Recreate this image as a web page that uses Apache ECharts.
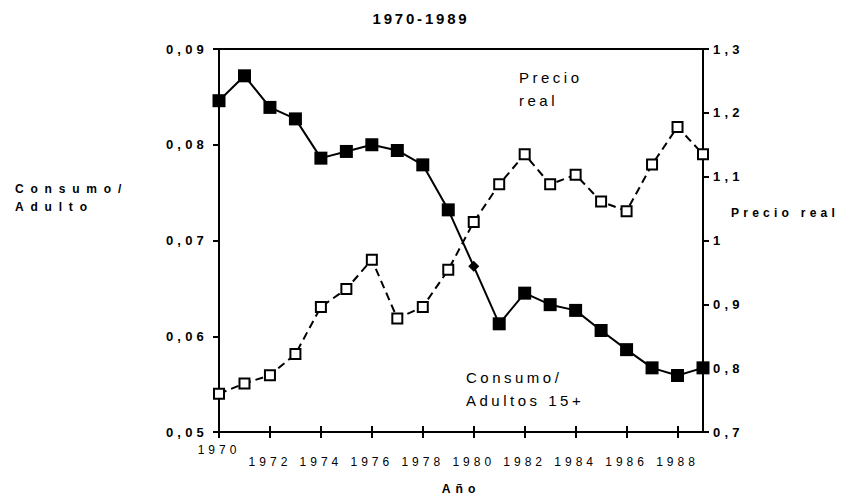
<!DOCTYPE html>
<html><head><meta charset="utf-8">
<script src="https://cdn.jsdelivr.net/npm/echarts@6/dist/echarts.min.js"></script>
<style>
html,body{margin:0;padding:0;background:#fff;}
#c{width:842px;height:500px;}
</style>
</head><body><div id="c"></div>
<script>
// ---- data ----
const years = ['1970','1971','1972','1973','1974','1975','1976','1977','1978','1979','1980','1981','1982','1983','1984','1985','1986','1987','1988','1989'];
const consumo = [0.0846,0.0872,0.0839,0.0827,0.0786,0.0793,0.0800,0.0794,0.0779,0.0732,0.0673,0.0613,0.0645,0.0633,0.0627,0.0606,0.0586,0.0567,0.0559,0.0567];
const precio = [0.760,0.776,0.789,0.822,0.896,0.924,0.970,0.878,0.896,0.954,1.029,1.088,1.135,1.088,1.103,1.061,1.046,1.119,1.178,1.135];
const leftTickLabels = ['0,05','0,06','0,07','0,08','0,09'];
const rightTickLabels = ['0,7','0,8','0,9','1','1,1','1,2','1,3'];
const diamondYear = '1980';
const titleText = '1970-1989';
const leftName = 'Consumo/\nAdulto';
const rightName = 'Precio real';
const xName = 'Año';
const noteRight = 'Precio\nreal';
const noteLeft = 'Consumo/\nAdultos 15+';

const FONT = '"Liberation Sans", Arial, Helvetica, sans-serif';
const chart = echarts.init(document.getElementById('c'), null, {renderer:'svg'});

const consumoData = consumo.map((v,i)=> years[i]===diamondYear ? {value:v, symbol:'diamond', symbolSize:11} : v);

chart.setOption({
  animation:false,
  backgroundColor:'#fff',
  title:{text:titleText,left:'center',top:6,textStyle:{fontFamily:FONT,fontSize:15,fontWeight:'bold',color:'#000'}},
  grid:{left:219,right:139,top:49,bottom:63,show:true,borderColor:'#000',borderWidth:2,backgroundColor:'transparent'},
  xAxis:[{
    type:'category',data:years,boundaryGap:false,
    name:xName,nameLocation:'middle',nameGap:51,
    nameTextStyle:{fontFamily:FONT,fontSize:12.2,fontWeight:'bold',color:'#000'},
    axisLine:{lineStyle:{color:'#000',width:2}},
    axisTick:{interval:1,length:6,lineStyle:{color:'#000',width:2}},
    axisLabel:{interval:1,margin:12,fontFamily:FONT,fontSize:12,color:'#000',
      formatter:(v,i)=> i===0 ? '{a|'+v+'}' : '{b|'+v+'}',
      rich:{a:{fontFamily:FONT,fontSize:12,color:'#000'},b:{fontFamily:FONT,fontSize:12,color:'#000',padding:[12,0,0,0]}}},
    splitLine:{show:false}
  },{
    type:'category',data:years,boundaryGap:false,position:'bottom',
    axisLine:{show:false},
    axisTick:{interval:1,inside:true,length:6,lineStyle:{color:'#000',width:2}},
    axisLabel:{show:false},splitLine:{show:false}
  }],
  yAxis:[{
    type:'value',min:0.05,max:0.09,interval:0.01,position:'left',
    axisLine:{show:true,lineStyle:{color:'#000',width:2}},
    axisTick:{show:true,length:6,lineStyle:{color:'#000',width:2}},
    axisLabel:{margin:11,fontFamily:FONT,fontSize:13,fontWeight:'bold',color:'#000',
      formatter:v=>leftTickLabels[Math.round((v-0.05)/0.01)]},
    splitLine:{show:false}
  },{
    type:'value',min:0.7,max:1.3,interval:0.1,position:'right',
    axisLine:{show:true,lineStyle:{color:'#000',width:2}},
    axisTick:{show:true,length:6,lineStyle:{color:'#000',width:2}},
    axisLabel:{margin:10,fontFamily:FONT,fontSize:13,fontWeight:'bold',color:'#000',
      formatter:v=>rightTickLabels[Math.round((v-0.7)/0.1)]},
    splitLine:{show:false}
  }],
  series:[{
    name:'Precio real',type:'line',yAxisIndex:1,data:precio,
    symbol:'rect',symbolSize:10,showAllSymbol:true,
    itemStyle:{color:'#fff',borderColor:'#000',borderWidth:2},
    lineStyle:{color:'#000',width:2,type:[8,5]},z:2
  },{
    name:'Consumo/Adulto',type:'line',yAxisIndex:0,data:consumoData,
    symbol:'rect',symbolSize:13,showAllSymbol:true,
    itemStyle:{color:'#000'},
    lineStyle:{color:'#000',width:2},z:3
  }],
  graphic:[
    {type:'text',left:15,top:180,style:{text:leftName,fontFamily:FONT,fontSize:12,fontWeight:'bold',fill:'#000',lineHeight:18}},
    {type:'text',left:731,top:204,style:{text:rightName,fontFamily:FONT,fontSize:12.1,fontWeight:'bold',fill:'#000',lineHeight:18}},
    {type:'text',left:519,top:66,style:{text:noteRight,fontFamily:FONT,fontSize:15,fill:'#000',lineHeight:23}},
    {type:'text',left:466,top:366,style:{text:noteLeft,fontFamily:FONT,fontSize:15,fill:'#000',lineHeight:23}}
  ]
});

function spacing(){
  document.querySelectorAll('#c svg text, #c svg tspan').forEach(el=>{
    const cs = getComputedStyle(el);
    const fs = parseFloat(cs.fontSize); const bold = (cs.fontWeight==='bold'||parseInt(cs.fontWeight)>=600);
    let ls;
    if (fs>=14.5 && bold) ls = 2.8;            // title
    else if (fs>=14.5) ls = 3.5;               // annotations
    else if (fs>=12.9) ls = 4.2;               // y tick labels
    else if (Math.abs(fs-12.2)<0.05) ls = 5;   // x axis name
    else if (Math.abs(fs-12.1)<0.05) ls = 4.2; // right axis name
    else if (fs>=11.9 && bold) ls = 6.8;       // left axis name
    else ls = 4;                               // x tick labels
    el.style.letterSpacing = ls+'px';
  });
}
spacing();
chart.on('finished', spacing);
setTimeout(spacing, 50);
</script>
</body></html>
